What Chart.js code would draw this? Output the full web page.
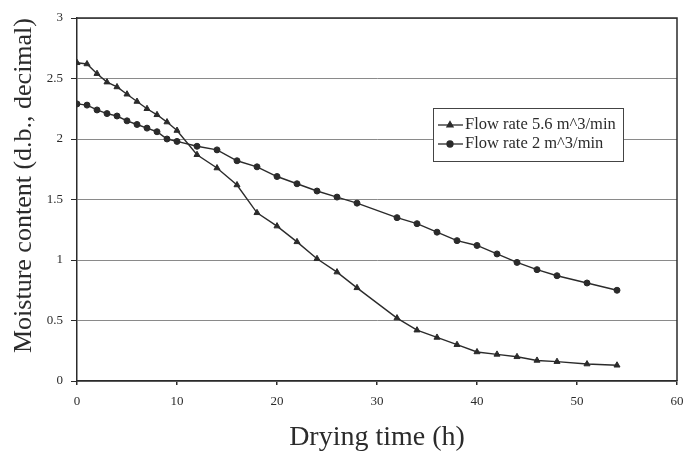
<!DOCTYPE html>
<html>
<head>
<meta charset="utf-8">
<script src="https://cdn.jsdelivr.net/npm/chart.js@4.4.1/dist/chart.umd.min.js"></script>
<style>
  html, body { margin: 0; padding: 0; background: #fff; }
</style>
</head>
<body>
<canvas id="chart" width="685" height="455"></canvas>
<script>
// drying time (h) at which moisture was sampled
const hours = [0, 1, 2, 3, 4, 5, 6, 7, 8, 9, 10, 12, 14, 16, 18, 20, 22, 24, 26, 28,
    32, 34, 36, 38, 40, 42, 44, 46, 48, 51, 54];
// moisture content, d.b. decimal
const flow56 = [2.63, 2.62, 2.54, 2.47, 2.43, 2.37, 2.31, 2.25, 2.20, 2.14, 2.07, 1.87, 1.76, 1.62,
    1.39, 1.28, 1.15, 1.01, 0.90, 0.77, 0.52, 0.42, 0.36, 0.30, 0.24, 0.22, 0.20, 0.17, 0.16, 0.14, 0.13];
const flow2 = [2.29, 2.28, 2.24, 2.21, 2.19, 2.15, 2.12, 2.09, 2.06, 2.00, 1.98, 1.94, 1.91, 1.82,
    1.77, 1.69, 1.63, 1.57, 1.52, 1.47, 1.35, 1.30, 1.23, 1.16, 1.12, 1.05, 0.98, 0.92, 0.87, 0.81, 0.75];
const seriesNames = ['Flow rate 5.6 m^3/min', 'Flow rate 2 m^3/min'];
const xTitle = 'Drying time (h)';
const yTitle = 'Moisture content (d.b., decimal)';

const ink = '#2b2b2b';
const serif = '"Liberation Serif", "Times New Roman", serif';

function toPoints(ys) {
    return hours.map((h, i) => ({ x: h, y: ys[i] }));
}

// plot frame (top/right) and the boxed key inside the plot
const frameAndKey = {
    id: 'frameAndKey',
    afterDatasetsDraw(chart) {
        const { ctx, chartArea: a } = chart;
        ctx.save();
        ctx.strokeStyle = ink;
        ctx.lineWidth = 1.5;
        ctx.beginPath();
        ctx.moveTo(a.left, a.top);
        ctx.lineTo(a.right, a.top);
        ctx.lineTo(a.right, a.bottom);
        ctx.stroke();

        const bx = 433, by = 108, bw = 190, bh = 53;
        ctx.fillStyle = '#fff';
        ctx.fillRect(bx, by, bw, bh);
        ctx.lineWidth = 1;
        ctx.strokeStyle = '#444';
        ctx.strokeRect(bx + 0.5, by + 0.5, bw, bh);

        ctx.font = '16.5px ' + serif;
        ctx.textBaseline = 'middle';
        chart.data.datasets.forEach((ds, i) => {
            const y = by + 17 + i * 19;
            ctx.strokeStyle = ink;
            ctx.lineWidth = 1.3;
            ctx.beginPath();
            ctx.moveTo(bx + 5, y);
            ctx.lineTo(bx + 30, y);
            ctx.stroke();
            ctx.fillStyle = ink;
            Chart.helpers.drawPoint(ctx, {
                pointStyle: ds.pointStyle, radius: ds.pointRadius, rotation: 0, borderWidth: 1
            }, bx + 17, y);
            ctx.fillStyle = ink;
            ctx.fillText(ds.label, bx + 32, y);
        });
        ctx.restore();
    }
};

const ctx = document.getElementById('chart').getContext('2d');
const myChart = new Chart(ctx, {
    type: 'line',
    data: {
        datasets: [{
            label: seriesNames[0],
            data: toPoints(flow56),
            borderColor: ink,
            backgroundColor: ink,
            borderWidth: 1.4,
            pointStyle: 'triangle',
            pointRadius: 3.5,
            pointBorderWidth: 1,
            tension: 0
        }, {
            label: seriesNames[1],
            data: toPoints(flow2),
            borderColor: ink,
            backgroundColor: ink,
            borderWidth: 1.4,
            pointStyle: 'circle',
            pointRadius: 3,
            pointBorderWidth: 1,
            tension: 0
        }]
    },
    options: {
        responsive: false,
        animation: false,
        layout: { padding: { top: 18, right: 8, left: 0, bottom: 0 } },
        plugins: {
            legend: { display: false },
            tooltip: { enabled: false }
        },
        scales: {
            x: {
                type: 'linear',
                min: 0,
                max: 60,
                afterFit: (scale) => {
                    scale.height = 74;
                    scale.paddingLeft = 0;
                    scale.paddingRight = 0;
                },
                ticks: {
                    stepSize: 10,
                    color: ink,
                    padding: 9,
                    maxRotation: 0,
                    font: { family: serif, size: 13 }
                },
                grid: {
                    drawOnChartArea: false,
                    tickLength: 4,
                    color: ink,
                    lineWidth: 1.5
                },
                border: { color: ink, width: 1.5 },
                title: {
                    display: true,
                    text: xTitle,
                    color: ink,
                    padding: { top: 0, bottom: 1 },
                    font: { family: serif, size: 28 }
                }
            },
            y: {
                min: 0,
                max: 3,
                afterFit: (scale) => {
                    scale.width = 77;
                    scale.paddingTop = 0;
                    scale.paddingBottom = 0;
                },
                ticks: {
                    stepSize: 0.5,
                    color: ink,
                    padding: 8,
                    font: { family: serif, size: 13 },
                    callback: (value) => String(value)
                },
                grid: {
                    color: '#8a8a8a',
                    lineWidth: 1,
                    tickLength: 6,
                    tickColor: ink
                },
                border: { color: ink, width: 1.5 },
                title: {
                    display: true,
                    text: yTitle,
                    align: 'end',
                    color: ink,
                    padding: { top: 9, bottom: 0 },
                    font: { family: serif, size: 26 }
                }
            }
        }
    },
    plugins: [frameAndKey]
});
</script>
</body>
</html>
